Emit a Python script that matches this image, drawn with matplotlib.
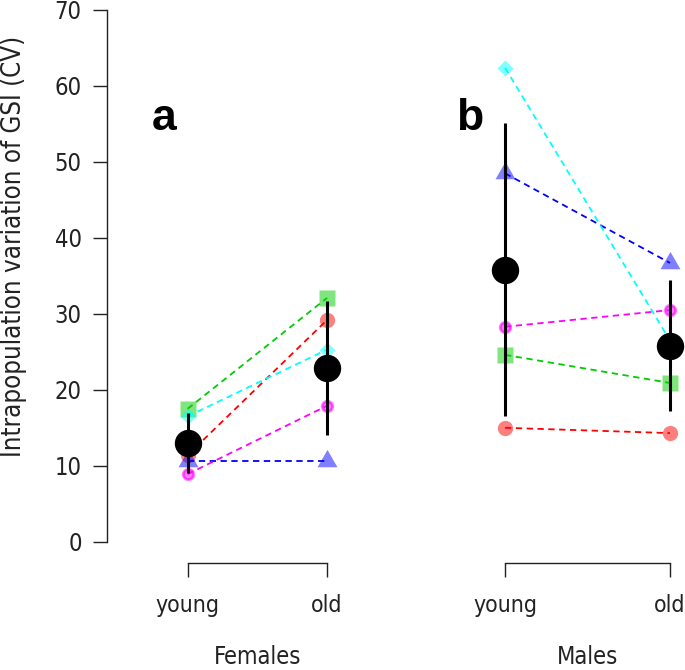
import matplotlib.pyplot as plt
import numpy as np

plt.rcParams['font.family'] = 'DejaVu Sans'
plt.rcParams['font.stretch'] = 'condensed'

# Data (CV of GSI per population)
ages = ['young', 'old']
sexes = ['Females', 'Males']
pop_colors = ['#FF0000', '#00CD00', '#0000FF', '#00FFFF', '#FF00FF']

fem_young = [11.4, 17.5, 10.6, 16.5, 8.9]
fem_old = [29.2, 32.1, 10.6, 25.3, 17.9]
male_young = [15.0, 24.6, 48.5, 62.4, 28.3]
male_old = [14.3, 20.9, 36.7, 26.5, 30.5]

fem_mean = [13.0, 22.9]
fem_sd = [4.0, 8.8]
male_mean = [35.8, 25.8]
male_sd = [19.3, 8.6]

W, H = 685, 670
fig = plt.figure(figsize=(W / 100, H / 100), dpi=100)

# equilateral triangle like R pch 17
tri = [(0, 1), (-0.866, -0.5), (0.866, -0.5)]
pop_markers = ['o', 's', tri, 'D', 'o']
pop_sizes = [11, 11.5, 16.6, 8.5, 9.6]

AXC = '#222222'


def draw_panel(ax, young, old, mean, sd):
    x = np.array([1, 2])
    for i in range(5):
        yy = [young[i], old[i]]
        ax.plot(x, yy, ls='none', marker=pop_markers[i], ms=pop_sizes[i],
                color=pop_colors[i], alpha=0.5, mec='none', zorder=2)
        if i == 4:
            ax.plot(x, yy, ls='none', marker='o', ms=6.5, mfc='none',
                    mec=pop_colors[i], mew=1.3, alpha=0.6, zorder=2)
        ax.plot(x, yy, ls=(0, (3.5, 2.5)), lw=1.3, color=pop_colors[i], zorder=3)
    ax.errorbar(x, mean, yerr=sd, fmt='o', color='black', ms=18.7,
                elinewidth=2.2, capsize=0, zorder=4)
    for s in ['top', 'right']:
        ax.spines[s].set_visible(False)
    ax.spines['bottom'].set_bounds(1, 2)
    ax.spines['bottom'].set_color(AXC)
    ax.spines['bottom'].set_linewidth(1.0)
    ax.set_xticks(x)
    ax.set_xticklabels(ages, fontsize=16.5, color=AXC)
    ax.tick_params(axis='x', length=10.1, width=1.0, color=AXC, pad=12.5)
    ax.set_ylim(-2.8, 70 + 10 / 7.6)
    ax.patch.set_visible(False)


bottom = (H - 563) / H
height = 563 / H

ax1 = fig.add_axes([106.7 / W, bottom, (408 - 106.7) / W, height])
draw_panel(ax1, fem_young, fem_old, fem_mean, fem_sd)
ax1.set_xlim(0.42, 2.58)
ax1.spines['left'].set_bounds(0, 70)
ax1.spines['left'].set_color(AXC)
ax1.spines['left'].set_linewidth(1.0)
ax1.set_yticks(np.arange(0, 71, 10))
ax1.tick_params(axis='y', length=10, width=1.0, color=AXC, labelsize=17,
                labelcolor=AXC, pad=8)

ax2 = fig.add_axes([409 / W, bottom, (W - 409) / W, height])
draw_panel(ax2, male_young, male_old, male_mean, male_sd)
ax2.set_xlim(1 - 96 / 165, 2 + 15 / 165)
ax2.spines['left'].set_visible(False)
ax2.set_yticks([])

# sex labels under each bracket
for ax, lab in zip([ax1, ax2], sexes):
    ax.text(1.5, -(664 - 563) / 7.6 - 2.8, lab, ha='center', va='baseline',
            fontsize=17, color=AXC, clip_on=False)

# panel letters
fig.text(164.5 / W, 1 - 130 / H, 'a', fontsize=32, fontweight='bold',
         family='Liberation Sans', ha='center', va='baseline')
fig.text(469.5 / W, 1 - 130 / H, 'b', fontsize=32, fontweight='bold',
         family='Liberation Sans', ha='center', va='baseline')

fig.text(14 / W, 1 - 246 / H, 'Intrapopulation variation of GSI (CV)',
         rotation=90, ha='center', va='center', fontsize=18.5, color=AXC)

fig.savefig('out.png', dpi=100)
